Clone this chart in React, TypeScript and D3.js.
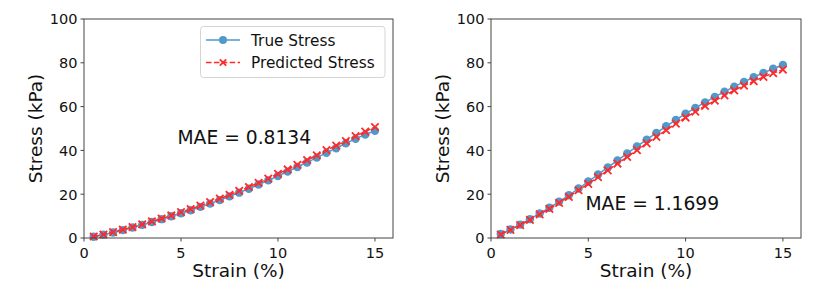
import { line, scaleLinear } from "d3";

const strain = [
  0.5, 1, 1.5, 2, 2.5, 3, 3.5, 4, 4.5, 5, 5.5, 6, 6.5, 7, 7.5, 8, 8.5, 9, 9.5, 10, 10.5, 11, 11.5, 12, 12.5, 13,
  13.5, 14, 14.5, 15,
];

const trueLeft = [
  0.6, 1.5, 2.5, 3.6, 4.8, 6.0, 7.3, 8.6, 9.9, 11.3, 12.7, 14.2, 15.7, 17.3, 19.0, 20.7, 22.5, 24.4, 26.3, 28.3,
  30.3, 32.4, 34.5, 36.7, 38.9, 41.0, 43.2, 45.3, 47.2, 49.0,
];
const predLeft = [
  0.7, 1.6, 2.7, 3.8, 5.0, 6.2, 7.6, 8.9, 10.3, 11.8, 13.2, 14.8, 16.4, 18.0, 19.7, 21.5, 23.3, 25.2, 27.1, 29.3,
  31.3, 33.4, 35.6, 37.8, 40.1, 42.2, 44.3, 46.5, 48.6, 50.7,
];

const trueRight = [
  1.8, 3.9, 6.1, 8.6, 11.2, 13.8, 16.6, 19.5, 22.6, 25.8, 29.0, 32.2, 35.4, 38.6, 41.8, 44.9, 48.0, 51.0, 53.9,
  56.8, 59.4, 61.9, 64.4, 66.8, 69.1, 71.3, 73.4, 75.4, 77.3, 79.0,
];
const predRight = [
  1.6, 3.7, 5.9, 8.3, 10.8, 13.3, 16.0, 18.8, 21.8, 24.7, 27.8, 30.9, 34.0, 37.0, 40.1, 43.2, 46.2, 49.2, 52.2,
  55.0, 57.7, 60.3, 62.7, 65.1, 67.4, 69.6, 71.6, 73.6, 75.3, 76.9,
];

const xTicks = [0, 5, 10, 15];
const yTicks = [0, 20, 40, 60, 80, 100];

const BLUE = "#5299cb";
const RED = "#ff2a2a";
const FONT = "DejaVu Sans";

interface PanelProps {
  left: number;
  right: number;
  truth: number[];
  pred: number[];
  mae: string;
  maeX: number;
  maeY: number;
  labelX: number;
  legend?: boolean;
}

function Cross({ cx, cy, s = 3.7 }: { cx: number; cy: number; s?: number }) {
  return (
    <path
      d={`M${cx - s},${cy - s}L${cx + s},${cy + s}M${cx - s},${cy + s}L${cx + s},${cy - s}`}
      stroke={RED}
      strokeWidth={1.8}
    />
  );
}

function Panel({ left, right, truth, pred, mae, maeX, maeY, labelX, legend }: PanelProps) {
  const top = 19;
  const bottom = 238;
  const x = scaleLinear().domain([0, 15.93]).range([left, right]);
  const y = scaleLinear().domain([0, 100]).range([bottom, top]);

  const truePts = strain.map((s, i) => [s, truth[i]] as [number, number]);
  const predPts = strain.map((s, i) => [s, pred[i]] as [number, number]);
  const path = line<[number, number]>()
    .x((d) => x(d[0]))
    .y((d) => y(d[1]));

  return (
    <g>
      <path d={path(truePts) ?? ""} fill="none" stroke={BLUE} strokeWidth={1.5} />
      {truePts.map((d, i) => (
        <circle key={i} cx={x(d[0])} cy={y(d[1])} r={4.2} fill={BLUE} />
      ))}
      <path d={path(predPts) ?? ""} fill="none" stroke={RED} strokeWidth={1.5} strokeDasharray="5.5,2.4" />
      {predPts.map((d, i) => (
        <Cross key={i} cx={x(d[0])} cy={y(d[1])} />
      ))}

      <rect x={left} y={top} width={right - left} height={bottom - top} fill="none" stroke="#444" strokeWidth={1} />

      {xTicks.map((t) => (
        <g key={t}>
          <line x1={x(t)} x2={x(t)} y1={bottom} y2={bottom + 3.5} stroke="#444" />
          <text x={x(t)} y={bottom + 20} textAnchor="middle" fontSize={14.5} fontFamily={FONT} fill="#111">
            {t}
          </text>
        </g>
      ))}
      {yTicks.map((t) => (
        <g key={t}>
          <line x1={left - 3.5} x2={left} y1={y(t)} y2={y(t)} stroke="#444" />
          <text
            x={left - 6.5}
            y={y(t) + 5.3}
            textAnchor="end"
            fontSize={14.5}
            fontFamily={FONT}
            fill="#111"
          >
            {t}
          </text>
        </g>
      ))}

      <text x={(left + right) / 2} y={277} textAnchor="middle" fontSize={18.5} fontFamily={FONT} fill="#111">
        Strain (%)
      </text>
      <text
        transform={`translate(${labelX}, ${(top + bottom) / 2}) rotate(-90)`}
        textAnchor="middle"
        fontSize={18.5}
        fontFamily={FONT}
        fill="#111"
      >
        Stress (kPa)
      </text>

      <text x={maeX} y={maeY} fontSize={18.7} fontFamily={FONT} fill="#111">
        {mae}
      </text>

      {legend ? (
        <g>
          <rect x={200.5} y={26.5} width={184.5} height={51} rx={3} fill="white" fillOpacity={0.8} stroke="#d5d5d5" />
          <line x1={206} x2={240} y1={40} y2={40} stroke={BLUE} strokeWidth={1.5} />
          <circle cx={223} cy={40} r={4} fill={BLUE} />
          <text x={251} y={45.5} fontSize={15.3} fontFamily={FONT} fill="#111">
            True Stress
          </text>
          <line x1={206} x2={240} y1={62.5} y2={62.5} stroke={RED} strokeWidth={1.5} strokeDasharray="5.5,2.4" />
          <Cross cx={223} cy={62.5} s={3.2} />
          <text x={251} y={68} fontSize={15.3} fontFamily={FONT} fill="#111">
            Predicted Stress
          </text>
        </g>
      ) : null}
    </g>
  );
}

export default function App() {
  return (
    <div style={{ position: "fixed", left: 0, top: 0 }}>
      <svg width={830} height={296} viewBox="0 0 830 296" style={{ display: "block", background: "white" }}>
        <Panel
          left={84}
          right={393}
          truth={trueLeft}
          pred={predLeft}
          mae="MAE = 0.8134"
          maeX={177.5}
          maeY={143.5}
          labelX={41.5}
          legend
        />
        <Panel
          left={491}
          right={801}
          truth={trueRight}
          pred={predRight}
          mae="MAE = 1.1699"
          maeX={585.5}
          maeY={209.5}
          labelX={448.5}
        />
      </svg>
    </div>
  );
}
